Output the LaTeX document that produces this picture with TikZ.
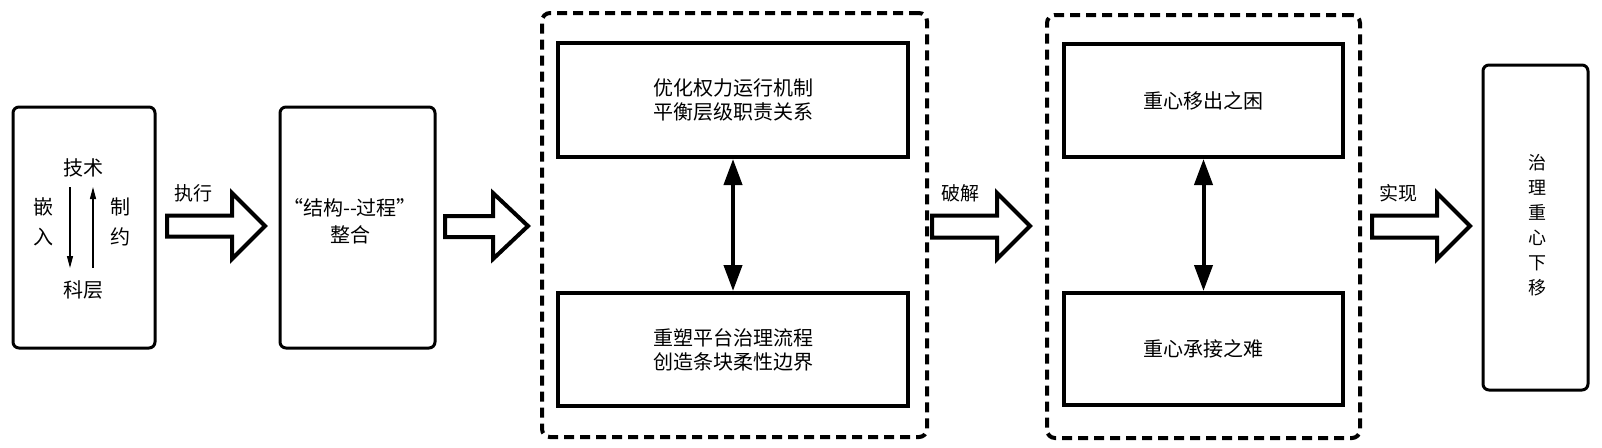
\documentclass[tikz,border=0pt]{standalone}
\usepackage{fontspec}
\setmainfont{Noto Sans CJK SC}
\usetikzlibrary{arrows.meta}
\begin{document}
\begin{tikzpicture}[x=0.5pt,y=-0.5pt,
  rbox/.style={draw,line width=1.5pt,rounded corners=3pt,inner sep=0pt},
  ibox/.style={draw,line width=2pt,inner sep=0pt,align=center,font=\fontsize{10pt}{12pt}\selectfont},
  dbox/.style={draw,line width=2pt,dash pattern=on 5pt off 3pt,rounded corners=4pt,inner sep=0pt},
  txt/.style={inner sep=0pt,align=center,font=\fontsize{10pt}{12pt}\selectfont},
  lbl/.style={inner sep=0pt,font=\fontsize{9.5pt}{11pt}\selectfont},
  barrow/.style={draw,line width=2pt,line join=miter,fill=white},
  dbl/.style={line width=2pt,{Triangle[length=13pt,width=9pt]}-{Triangle[length=13pt,width=9pt]}},
  thin/.style={line width=0.6pt,-{Triangle[length=6pt,width=3pt]}}
]
\useasboundingbox (0,0) rectangle (1602,447);
% box 1
\node[rbox,minimum width=71pt,minimum height=120.5pt] (b1) at (84,227.5) {};
\node[txt] (tech) at (83,168) {技术};
\node[txt] (kc) at (83,290) {科层};
\node[txt,font=\fontsize{10pt}{15pt}\selectfont] (qr) at (43,222) {嵌\\入};
\node[txt,font=\fontsize{10pt}{15pt}\selectfont] (zy) at (120,222) {制\\约};
\coordinate (d1) at (70,187); \coordinate (d2) at (70,268);
\coordinate (u1) at (93,268); \coordinate (u2) at (93,187);
\draw[thin] (d1) -- (d2);
\draw[thin] (u1) -- (u2);
% arrow 1
\node[lbl] (l1) at (193,193) {执行};
\draw[barrow] (167,215.5) -- (232,215.5) -- (232,193) -- (265,226) -- (232,259) -- (232,236.5) -- (167,236.5) -- cycle;
% box 2
\node[rbox,minimum width=77.5pt,minimum height=120.5pt] (b2) at (357.5,227.5) {};
\node[txt,font=\fontsize{10pt}{13.5pt}\selectfont] (b2t) at (350,221) {“结构-{}-过程”\\整合};
% arrow 2
\draw[barrow] (445,216) -- (493,216) -- (493,193) -- (528,226) -- (493,259) -- (493,237) -- (445,237) -- cycle;
% dashed group 1
\node[dbox,minimum width=192.5pt,minimum height=212pt] (g1) at (734.5,225) {};
\node[ibox,minimum width=175pt,minimum height=57pt] (a1) at (733,100) {优化权力运行机制\\平衡层级职责关系};
\node[ibox,minimum width=175pt,minimum height=56.5pt] (a2) at (733,349.5) {重塑平台治理流程\\创造条块柔性边界};
\draw[dbl] (a1.south) -- (a2.north);
% arrow 3
\node[lbl] (l3) at (960,193) {破解};
\draw[barrow] (932,215.5) -- (997,215.5) -- (997,193) -- (1030,226) -- (997,259) -- (997,237.5) -- (932,237.5) -- cycle;
% dashed group 2
\node[dbox,minimum width=156.5pt,minimum height=211.5pt] (g2) at (1203.5,226.5) {};
\node[ibox,minimum width=139.5pt,minimum height=56.5pt] (c1) at (1203.5,100.5) {重心移出之困};
\node[ibox,minimum width=139.5pt,minimum height=56pt] (c2) at (1203.5,349) {重心承接之难};
\draw[dbl] (c1.south) -- (c2.north);
% arrow 4
\node[lbl] (l4) at (1398,193) {实现};
\draw[barrow] (1372,215.5) -- (1437,215.5) -- (1437,193) -- (1470,226) -- (1437,259) -- (1437,237.5) -- (1372,237.5) -- cycle;
% final box
\node[rbox,minimum width=52.5pt,minimum height=162.5pt] (f) at (1535.5,227.5) {};
\node[txt,font=\fontsize{9pt}{12.5pt}\selectfont] (ft) at (1537,225.5) {治\\理\\重\\心\\下\\移};
\end{tikzpicture}
\end{document}
